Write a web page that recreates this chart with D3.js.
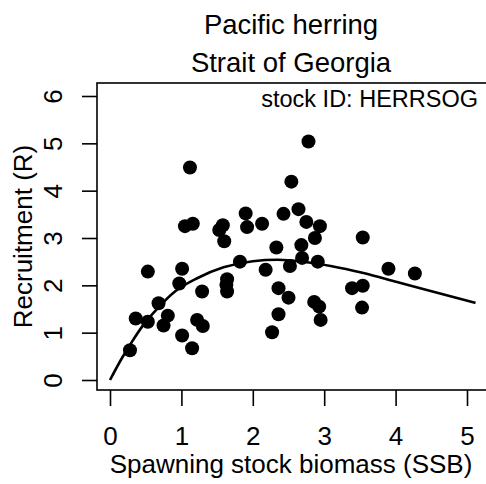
<!DOCTYPE html>
<html>
<head>
<meta charset="utf-8">
<script src="https://cdn.jsdelivr.net/npm/d3@7"></script>
<style>
  html, body { margin: 0; padding: 0; background: #fff; }
  svg { display: block; }
  text { font-family: "Liberation Sans", Arial, sans-serif; fill: #000; }
</style>
</head>
<body>
<script>
// ---- data ----
const titleLines = ["Pacific herring", "Strait of Georgia"];
const stockLabel = "stock ID: HERRSOG";
const xLabel = "Spawning stock biomass (SSB)";
const yLabel = "Recruitment (R)";
const xTicks = [0, 1, 2, 3, 4, 5];
const yTicks = [0, 1, 2, 3, 4, 5, 6];

// observed points (SSB, R)
const ssb = [0.28,0.36,0.53,0.53,0.68,0.81,0.75,1.01,1.15,1.01,0.97,1.22,1.30,1.29,1.64,1.63,1.64,1.82,2.18,2.52,2.69,2.91,2.36,2.50,2.36,2.27,2.86,2.93,2.95,3.39,3.54,3.53,3.90,4.27,2.33,2.68,2.87,3.54,2.94,2.75,2.64,2.43,2.13,1.92,1.90,1.58,1.53,1.60,1.05,1.16,1.12,2.54,2.78];
const rec = [0.63,1.30,1.23,2.29,1.62,1.36,1.15,0.94,0.67,2.35,2.04,1.27,1.14,1.87,2.13,2.01,1.87,2.50,2.33,2.41,2.58,2.50,1.94,1.74,1.39,1.01,1.65,1.55,1.27,1.94,1.99,1.53,2.35,2.25,2.80,2.85,3.00,3.01,3.25,3.34,3.61,3.51,3.30,3.23,3.52,3.27,3.17,2.93,3.25,3.30,4.49,4.19,5.04];

// fitted curve
const curveS = [0, 0.17, 0.30, 0.47, 0.67, 0.91, 1.22, 1.59, 2.00, 2.35, 2.70, 3.09, 3.55, 4.02, 4.49, 5.12];
const curveR = [0, 0.47, 0.79, 1.17, 1.52, 1.87, 2.15, 2.38, 2.51, 2.54, 2.50, 2.41, 2.26, 2.07, 1.88, 1.63];

// ---- layout ----
const W = 486, H = 484;
const box = {left: 97, top: 83, right: 489, bottom: 390};

const svg = d3.select("body").append("svg").attr("width", W).attr("height", H);

const x = d3.scaleLinear().domain([0, 5]).range([110, 467]);
const y = d3.scaleLinear().domain([0, 6]).range([380, 96]);

// clip for plot region
svg.append("clipPath").attr("id", "clip").append("rect")
  .attr("x", box.left).attr("y", box.top)
  .attr("width", box.right - box.left).attr("height", box.bottom - box.top);

const plot = svg.append("g").attr("clip-path", "url(#clip)");

// curve
const line = d3.line().x(d => x(d[0])).y(d => y(d[1])).curve(d3.curveMonotoneX);
plot.append("path")
  .datum(curveS.map((s, i) => [s, curveR[i]]))
  .attr("d", line)
  .attr("fill", "none").attr("stroke", "#000").attr("stroke-width", 2.6);

// points
plot.selectAll("circle.pt").data(ssb.map((s, i) => [s, rec[i]])).enter()
  .append("circle").attr("class", "pt")
  .attr("cx", d => x(d[0])).attr("cy", d => y(d[1])).attr("r", 7)
  .attr("fill", "#000");

// box
svg.append("rect")
  .attr("x", box.left).attr("y", box.top)
  .attr("width", box.right - box.left).attr("height", box.bottom - box.top)
  .attr("fill", "none").attr("stroke", "#000").attr("stroke-width", 1.6);

// x axis
const xAxis = d3.axisBottom(x).tickValues(xTicks).tickSize(16).tickPadding(22)
  .tickFormat(d3.format("d"));
const gx = svg.append("g").attr("transform", `translate(0,${box.bottom})`).call(xAxis);
gx.select(".domain").remove();
gx.selectAll(".tick line").attr("stroke", "#000").attr("stroke-width", 1.6);
gx.selectAll(".tick text").attr("font-size", 26).attr("dy", null)
  .attr("y", 55).attr("font-family", "Liberation Sans, Arial, sans-serif");

// y axis
const yAxis = d3.axisLeft(y).tickValues(yTicks).tickSize(15).tickFormat(d3.format("d"));
const gy = svg.append("g").attr("transform", `translate(${box.left},0)`).call(yAxis);
gy.select(".domain").remove();
gy.selectAll(".tick line").attr("stroke", "#000").attr("stroke-width", 1.6);
gy.selectAll(".tick text")
  .attr("font-size", 26).attr("font-family", "Liberation Sans, Arial, sans-serif")
  .attr("x", null).attr("dy", null).attr("y", null)
  .attr("text-anchor", "middle")
  .attr("transform", "translate(-35,0) rotate(-90)");

// axis labels
svg.append("text").attr("x", (box.left + 485) / 2).attr("y", 473)
  .attr("text-anchor", "middle").attr("font-size", 26).text(xLabel);
svg.append("text")
  .attr("transform", `translate(32,${(box.top + box.bottom) / 2}) rotate(-90)`)
  .attr("text-anchor", "middle").attr("font-size", 26).text(yLabel);

// titles
svg.selectAll("text.title").data(titleLines).enter().append("text")
  .attr("class", "title")
  .attr("x", 291).attr("y", (d, i) => 34 + i * 38)
  .attr("text-anchor", "middle").attr("font-size", 27.5).text(d => d);

// stock label
svg.append("text").attr("x", 478).attr("y", 107)
  .attr("text-anchor", "end").attr("font-size", 23.5).text(stockLabel);
</script>
</body>
</html>
